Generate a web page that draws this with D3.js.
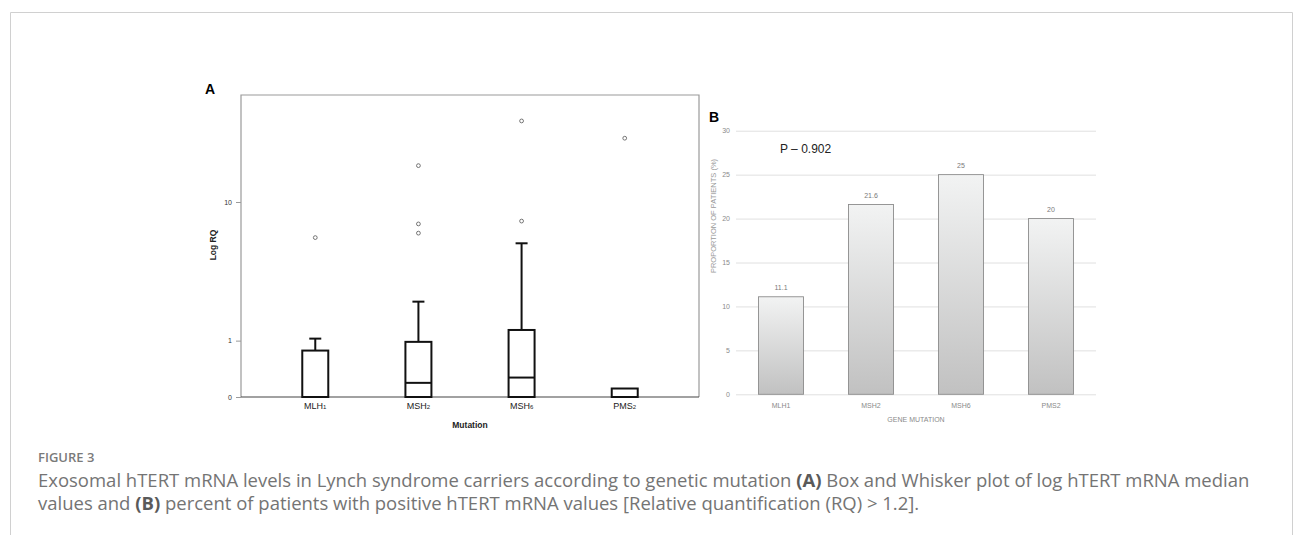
<!DOCTYPE html>
<html>
<head>
<meta charset="utf-8">
<script src="https://d3js.org/d3.v7.min.js"></script>
<style>
  body { margin: 0; background: #fff; }
  svg { display: block; }
</style>
</head>
<body>
<svg id="chart"></svg>
<script>
// Figure 3: box plot of log RQ by mutation (A) and % positive patients (B)

var width = 1295,
    height = 535;

// panel A data
var mutations = ["MLH", "MSH", "MSH", "PMS"];
var mutationNums = ["1", "2", "6", "2"];
var boxLow = [0, 0, 0, 0];
var boxMedian = [0, 0.19, 0.27, 0];
var boxHigh = [0.77, 0.97, 1.28, 0.11];
var whiskerHigh = [1.05, 2.23, 5.62, 0.11];
var outliers = [[6.1], [16.2, 7.4, 6.5], [28.8, 7.7], [23.1]];
var logTicks = [0, 1, 10];

// panel B data
var genes = ["MLH1", "MSH2", "MSH6", "PMS2"];
var percents = [11.1, 21.6, 25, 20];
var percentLabels = ["11.1", "21.6", "25", "20"];
var percentTicks = [0, 5, 10, 15, 20, 25, 30];

var svg = d3.select('#chart')
  .attr('width', width)
  .attr('height', height);

// outer frame (no bottom edge)
svg.append('path')
  .attr('d', 'M10.5,535 V12.5 H1292.5 V535')
  .attr('fill', 'none')
  .attr('stroke', '#d0d0d0')
  .attr('stroke-width', 1);

// ---------- panel A ----------
var ax0 = 241, ax1 = 699, ay0 = 95, ay1 = 397;

var xA = d3.scalePoint()
  .domain(d3.range(mutations.length))
  .range([ax0, ax1])
  .padding(0.72);

var yA = d3.scaleSymlog()
  .constant(1)
  .domain([0, 40])
  .range([ay1, ay0]);

var gA = svg.append('g');

// frame
gA.append('path')
  .attr('d', 'M' + ax0 + ',' + ay1 + ' V' + ay0 + ' H' + ax1 + ' V' + ay1)
  .attr('fill', 'none')
  .attr('stroke', '#9a9a9a')
  .attr('stroke-width', 1.2);

var axisA = gA.append('g')
  .attr('transform', 'translate(' + ax0 + ',0)')
  .call(d3.axisLeft(yA).tickValues(logTicks).tickFormat(d3.format('d')).tickSize(5).tickPadding(4));
axisA.select('.domain').remove();
axisA.selectAll('line').attr('stroke', '#9a9a9a');
axisA.selectAll('text')
  .style('font-family', 'Liberation Sans, Arial, sans-serif')
  .style('font-size', '7px')
  .attr('fill', '#333');

// baseline
gA.append('line')
  .attr('x1', ax0).attr('x2', ax1)
  .attr('y1', yA(0)).attr('y2', yA(0))
  .attr('stroke', '#444')
  .attr('stroke-width', 1.2);

var boxW = 26;
var boxes = gA.selectAll('g.box')
  .data(d3.range(mutations.length))
  .enter()
  .append('g')
  .attr('class', 'box');

// whisker
boxes.filter(function(i) { return whiskerHigh[i] > boxHigh[i]; })
  .append('line')
  .attr('x1', function(i) { return xA(i); })
  .attr('x2', function(i) { return xA(i); })
  .attr('y1', function(i) { return yA(boxHigh[i]); })
  .attr('y2', function(i) { return yA(whiskerHigh[i]); })
  .attr('stroke', '#111')
  .attr('stroke-width', 2);
boxes.filter(function(i) { return whiskerHigh[i] > boxHigh[i]; })
  .append('line')
  .attr('x1', function(i) { return xA(i) - 6; })
  .attr('x2', function(i) { return xA(i) + 6; })
  .attr('y1', function(i) { return yA(whiskerHigh[i]); })
  .attr('y2', function(i) { return yA(whiskerHigh[i]); })
  .attr('stroke', '#111')
  .attr('stroke-width', 2);

boxes.append('rect')
  .attr('x', function(i) { return xA(i) - boxW / 2; })
  .attr('width', boxW)
  .attr('y', function(i) { return yA(boxHigh[i]); })
  .attr('height', function(i) { return yA(boxLow[i]) - yA(boxHigh[i]); })
  .attr('fill', '#fff')
  .attr('stroke', '#111')
  .attr('stroke-width', 2);

boxes.filter(function(i) { return boxMedian[i] > 0; })
  .append('line')
  .attr('x1', function(i) { return xA(i) - boxW / 2; })
  .attr('x2', function(i) { return xA(i) + boxW / 2; })
  .attr('y1', function(i) { return yA(boxMedian[i]); })
  .attr('y2', function(i) { return yA(boxMedian[i]); })
  .attr('stroke', '#111')
  .attr('stroke-width', 2);

boxes.selectAll('circle')
  .data(function(i) { return outliers[i].map(function(v) { return { i: i, v: v }; }); })
  .enter()
  .append('circle')
  .attr('cx', function(d) { return xA(d.i); })
  .attr('cy', function(d) { return yA(d.v); })
  .attr('r', 1.9)
  .attr('fill', '#fff')
  .attr('stroke', '#555')
  .attr('stroke-width', 0.8);

// category labels with small digits
var labA = gA.selectAll('text.cat')
  .data(d3.range(mutations.length))
  .enter()
  .append('text')
  .attr('class', 'cat')
  .attr('x', function(i) { return xA(i); })
  .attr('y', 409)
  .attr('text-anchor', 'middle')
  .style('font-family', 'Liberation Sans, Arial, sans-serif')
  .style('font-size', '9px')
  .attr('fill', '#222');
labA.append('tspan').text(function(i) { return mutations[i]; });
labA.append('tspan').style('font-size', '6px').text(function(i) { return mutationNums[i]; });

gA.append('text')
  .attr('x', (ax0 + ax1) / 2)
  .attr('y', 428)
  .attr('text-anchor', 'middle')
  .style('font-family', 'Liberation Sans, Arial, sans-serif')
  .style('font-size', '8.5px')
  .style('font-weight', 'bold')
  .attr('fill', '#222')
  .text('Mutation');

gA.append('text')
  .attr('transform', 'translate(216,245) rotate(-90)')
  .attr('text-anchor', 'middle')
  .style('font-family', 'Liberation Sans, Arial, sans-serif')
  .style('font-size', '8.5px')
  .style('font-weight', 'bold')
  .attr('fill', '#222')
  .text('Log RQ');

gA.append('text')
  .attr('x', 205)
  .attr('y', 94)
  .style('font-family', 'Liberation Sans, Arial, sans-serif')
  .style('font-size', '14px')
  .style('font-weight', 'bold')
  .attr('fill', '#000')
  .text('A');

// ---------- panel B ----------
var bx0 = 736, bx1 = 1096, by0 = 130.7, by1 = 394.3;

var xB = d3.scaleBand()
  .domain(genes)
  .range([bx0, bx1])
  .paddingInner(0.5)
  .paddingOuter(0.25);

var yB = d3.scaleLinear()
  .domain([0, 30])
  .range([by1, by0]);

var gB = svg.append('g');

var defs = svg.append('defs');
var grad = defs.append('linearGradient')
  .attr('id', 'barGrad')
  .attr('x1', 0).attr('y1', 0).attr('x2', 0).attr('y2', 1);
grad.append('stop').attr('offset', '0%').attr('stop-color', '#f2f3f3');
grad.append('stop').attr('offset', '100%').attr('stop-color', '#c1c1c1');

var axisB = gB.append('g')
  .attr('transform', 'translate(' + bx0 + ',0)')
  .call(d3.axisLeft(yB).tickValues(percentTicks).tickSize(-(bx1 - bx0)).tickPadding(6));
axisB.select('.domain').remove();
axisB.selectAll('line').attr('stroke', '#e0e0e0');
axisB.selectAll('text')
  .style('font-family', 'Liberation Sans Narrow, Liberation Sans, Arial, sans-serif')
  .style('font-size', '7px')
  .attr('fill', '#8a8a8a');

gB.selectAll('rect.bar')
  .data(percents)
  .enter()
  .append('rect')
  .attr('class', 'bar')
  .attr('x', function(d, i) { return xB(genes[i]); })
  .attr('width', xB.bandwidth())
  .attr('y', function(d) { return yB(d); })
  .attr('height', function(d) { return yB(0) - yB(d); })
  .attr('fill', 'url(#barGrad)')
  .attr('stroke', '#8c8c8c')
  .attr('stroke-width', 0.9);

gB.selectAll('text.val')
  .data(percents)
  .enter()
  .append('text')
  .attr('class', 'val')
  .attr('x', function(d, i) { return xB(genes[i]) + xB.bandwidth() / 2; })
  .attr('y', function(d) { return yB(d) - 7; })
  .attr('text-anchor', 'middle')
  .style('font-family', 'Liberation Sans Narrow, Liberation Sans, Arial, sans-serif')
  .style('font-size', '7px')
  .attr('fill', '#7a7a7a')
  .text(function(d, i) { return percentLabels[i]; });

gB.selectAll('text.gene')
  .data(genes)
  .enter()
  .append('text')
  .attr('class', 'gene')
  .attr('x', function(d) { return xB(d) + xB.bandwidth() / 2; })
  .attr('y', 408)
  .attr('text-anchor', 'middle')
  .style('font-family', 'Liberation Sans Narrow, Liberation Sans, Arial, sans-serif')
  .style('font-size', '7px')
  .attr('fill', '#8a8a8a')
  .text(function(d) { return d; });

gB.append('text')
  .attr('x', (bx0 + bx1) / 2)
  .attr('y', 422)
  .attr('text-anchor', 'middle')
  .style('font-family', 'Liberation Sans Narrow, Liberation Sans, Arial, sans-serif')
  .style('font-size', '7px')
  .attr('fill', '#8a8a8a')
  .text('GENE MUTATION');

gB.append('text')
  .attr('transform', 'translate(716,216) rotate(-90)')
  .attr('text-anchor', 'middle')
  .style('font-family', 'Liberation Sans Narrow, Liberation Sans, Arial, sans-serif')
  .style('font-size', '7.5px')
  .attr('fill', '#9a9a9a')
  .text('PROPORTION OF PATIENTS  (%)');

gB.append('text')
  .attr('x', 780)
  .attr('y', 153)
  .style('font-family', 'Liberation Sans Narrow, Liberation Sans, Arial, sans-serif')
  .style('font-size', '12px')
  .attr('fill', '#222')
  .text('P \u2013 0.902');

gB.append('text')
  .attr('x', 709)
  .attr('y', 122)
  .style('font-family', 'Liberation Sans, Arial, sans-serif')
  .style('font-size', '14px')
  .style('font-weight', 'bold')
  .attr('fill', '#000')
  .text('B');

// ---------- caption ----------
var capFont = 'Open Sans, Noto Sans, sans-serif';
svg.append('text')
  .attr('x', 38)
  .attr('y', 462)
  .style('font-family', capFont)
  .style('font-size', '13px')
  .style('font-weight', '600')
  .attr('fill', '#7a7a7a')
  .text('FIGURE 3');

var line1 = svg.append('text')
  .attr('x', 38)
  .attr('y', 487)
  .style('font-family', capFont)
  .style('font-size', '15px')
  .attr('fill', '#747474');
line1.append('tspan').text('Exosomal hTERT mRNA levels in Lynch syndrome carriers according to genetic mutation ');
line1.append('tspan').style('font-weight', '700').attr('fill', '#5a5a5a').text('(A)');
line1.append('tspan').text(' Box and Whisker plot of log hTERT mRNA median');

var line2 = svg.append('text')
  .attr('x', 38)
  .attr('y', 510)
  .style('font-family', capFont)
  .style('font-size', '15px')
  .attr('fill', '#747474');
line2.append('tspan').text('values and ');
line2.append('tspan').style('font-weight', '700').attr('fill', '#5a5a5a').text('(B)');
line2.append('tspan').text(' percent of patients with positive hTERT mRNA values [Relative quantification (RQ) > 1.2].');

// fit caption width to the picture
var targetW = 1250 - 38;
var w1 = line1.node().getComputedTextLength();
var fs = 15 * targetW / w1;
line1.style('font-size', fs + 'px');
line2.style('font-size', fs + 'px');
</script>
</body>
</html>
